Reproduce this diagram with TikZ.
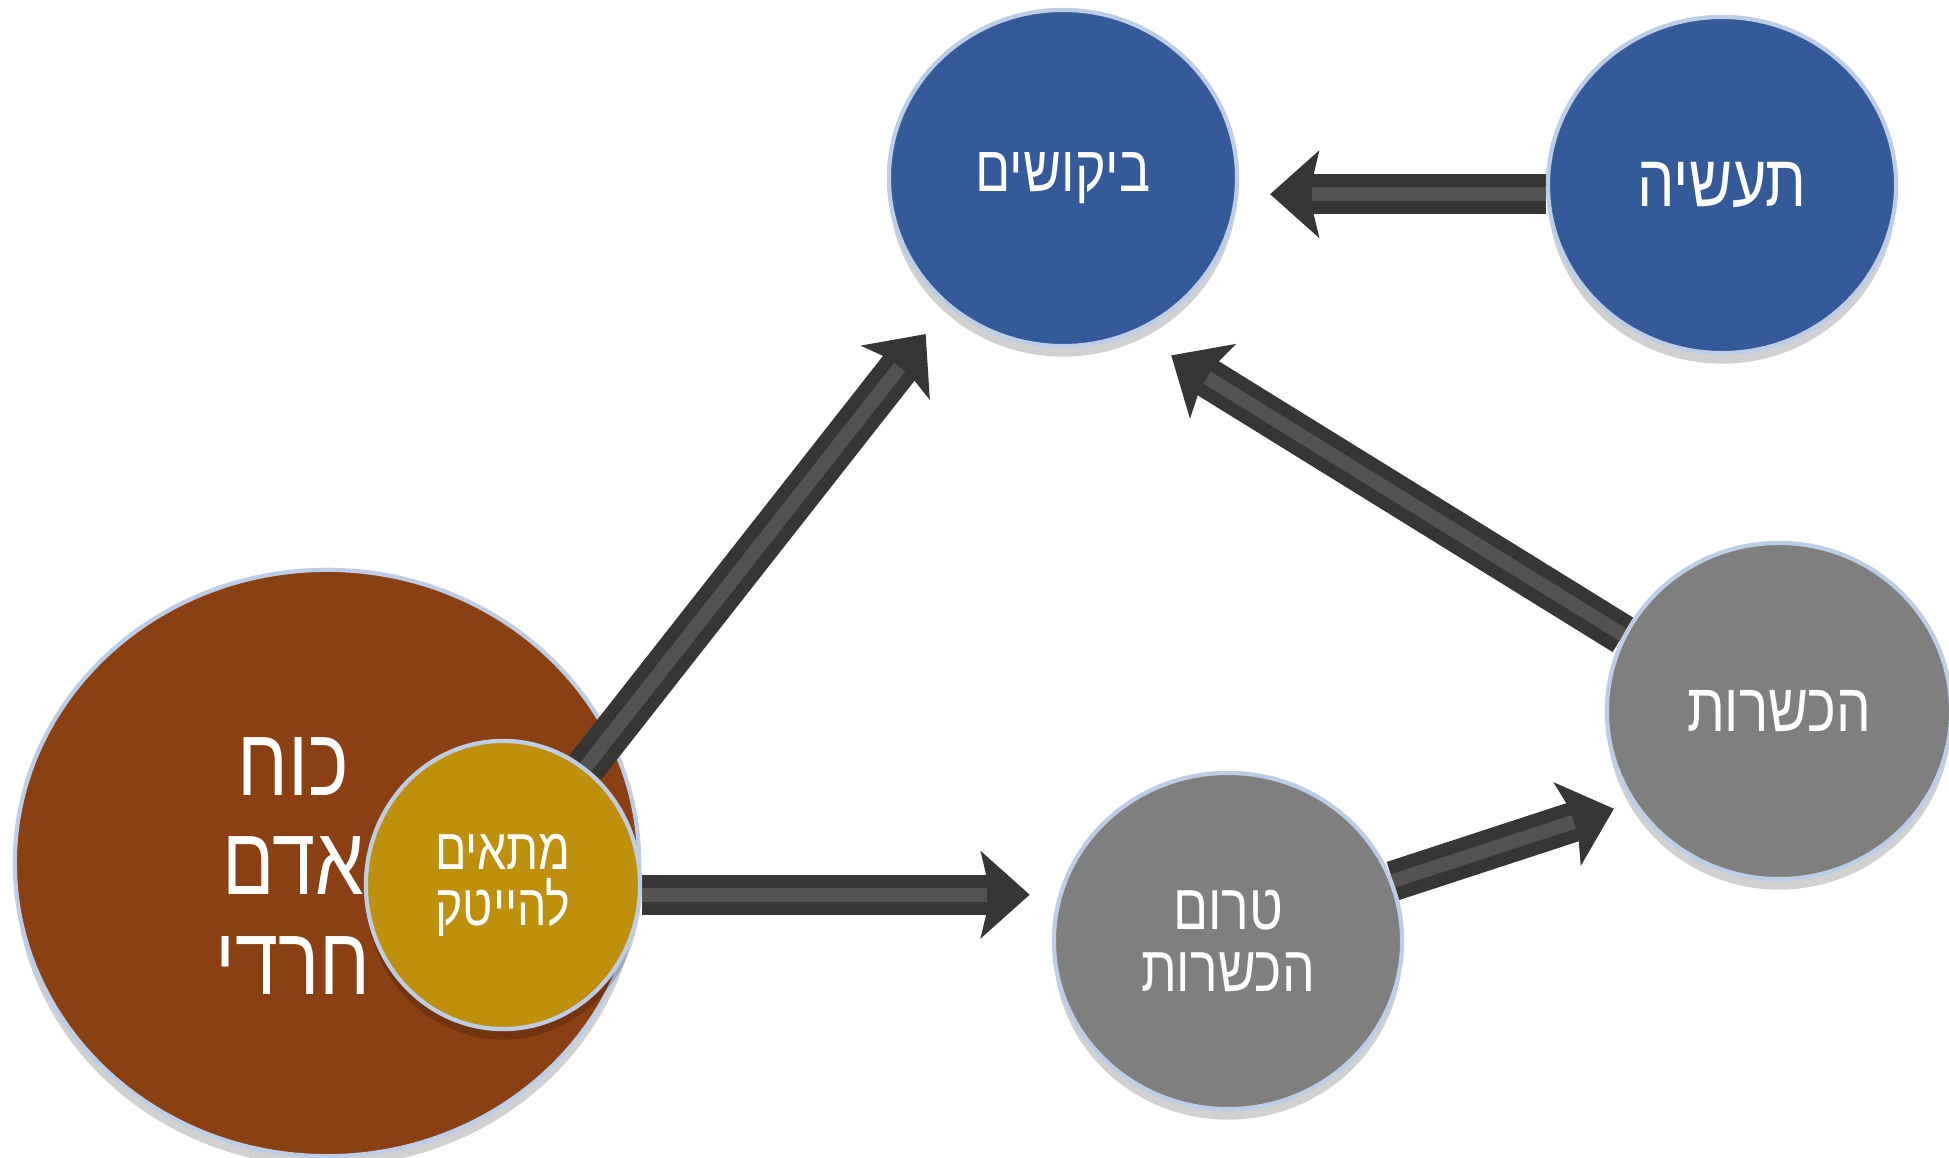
\documentclass[tikz,border=0pt]{standalone}
\usepackage{fontspec}
\newfontfamily\hebfont[Script=Hebrew, FakeStretch=0.8]{Liberation Sans}
\TeXXeTstate=1
\usepackage{tikz}
\usetikzlibrary{shapes.geometric,arrows.meta,shadows,backgrounds}

\definecolor{bubbleblue}{RGB}{53,90,154}
\definecolor{bubblegray}{RGB}{127,127,127}
\definecolor{bubblebrown}{RGB}{139,64,19}
\definecolor{bubblegold}{RGB}{191,144,11}
\definecolor{rimline}{RGB}{190,205,230}
\definecolor{arrowdark}{RGB}{56,54,52}
\definecolor{arrowlight}{RGB}{84,82,80}

\tikzset{
  bubble/.style={ellipse, inner sep=0pt, align=center, text=white, draw=rimline, line width=1.2pt,
    drop shadow={shadow xshift=0pt, shadow yshift=-3pt, opacity=0.18, fill=black}},
  bigarrow/.style={draw=arrowdark, line width=11.4pt, shorten >=#1,
    -{Stealth[width=25pt,length=14pt,inset=3pt,line width=0.4pt]},
    postaction={draw=arrowlight, line width=4pt, -, shorten >=#1+12pt}},
}

\begin{document}
\begin{tikzpicture}[x=0.01cm,y=-0.01cm]
\useasboundingbox (0,0) rectangle (1949,1158);
% the blue ones on top
\node[bubble, fill=bubbleblue, minimum width=3.48cm, minimum height=3.36cm,
  font=\hebfont\fontsize{18.5}{20}\selectfont] (bikushim) at (1063,178) {\beginR ביקושים\endR};
\node[bubble, fill=bubbleblue, minimum width=3.48cm, minimum height=3.36cm,
  font=\hebfont\fontsize{21}{22}\selectfont] (tasia) at (1722,185) {\beginR תעשיה\endR};
% gray ones
\node[bubble, fill=bubblegray, minimum width=3.44cm, minimum height=3.36cm,
  font=\hebfont\fontsize{19.5}{20}\selectfont] (hachsh) at (1779,711) {\beginR הכשרות\endR};
\node[bubble, fill=bubblegray, minimum width=3.48cm, minimum height=3.36cm,
  font=\hebfont\fontsize{18.4}{17.8}\selectfont] (tromh) at (1228,941)
  {\beginR טרום\endR\\\beginR הכשרות\endR};
% big brown one sits behind the arrows
\begin{scope}[on background layer]
\node[bubble, fill=bubblebrown, minimum width=6.24cm, minimum height=5.86cm,
  label={[xshift=-0.34cm, yshift=-0.03cm, text=white, align=center,
    font=\hebfont\fontsize{27.5}{28.4}\selectfont]center:\beginR כוח\endR\\\beginR אדם\endR\\\beginR חרדי\endR}]
  (haredi) at (327,863) {};
\end{scope}
\node[bubble, fill=bubblegold, minimum width=2.74cm, minimum height=2.88cm,
  font=\hebfont\fontsize{16.5}{16}\selectfont] (hitech) at (503,885)
  {\beginR מתאים\endR\\\beginR להייטק\endR};
% arrows
\begin{scope}[on background layer]
\draw[bigarrow=10pt] (hitech.55) -- (bikushim.228);
\draw[bigarrow=6.3pt] (hitech.-4) -- (hitech.-4 -| tromh.west);
\draw[bigarrow=8.8pt] (tasia.183) -- (tasia.183 -| bikushim.east);
\draw[bigarrow=5.5pt] (tromh.20) -- (hachsh.212);
\draw[bigarrow=12pt] (hachsh.154) -- (bikushim.295);
\end{scope}
\end{tikzpicture}
\end{document}
